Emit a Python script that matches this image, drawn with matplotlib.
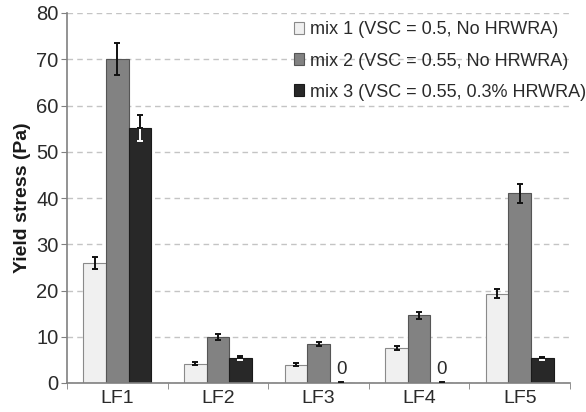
import numpy as np
import matplotlib.pyplot as plt
from matplotlib.patches import Patch

categories = ["LF1", "LF2", "LF3", "LF4", "LF5"]
series_names = ["mix 1 (VSC = 0.5, No HRWRA)",
                "mix 2 (VSC = 0.55, No HRWRA)",
                "mix 3 (VSC = 0.55, 0.3% HRWRA)"]
mix1 = [25.9, 4.2, 4.0, 7.6, 19.3]
mix2 = [70.0, 10.0, 8.4, 14.6, 41.0]
mix3 = [55.2, 5.4, 0.0, 0.0, 5.3]
err1 = [1.3, 0.3, 0.3, 0.5, 1.0]
err2 = [3.5, 0.6, 0.5, 0.8, 2.0]
err3 = [2.8, 0.4, 0.0, 0.0, 0.3]
yticks = [0, 10, 20, 30, 40, 50, 60, 70, 80]

plt.rcParams['font.family'] = ['Liberation Sans', 'DejaVu Sans']

fig = plt.figure(figsize=(5.86, 4.12), dpi=100)
ax = fig.add_axes([67/586, 1 - 383/412, (570-67)/586, (383-13)/412])

x = np.arange(len(categories))
w = 0.224
fills = ["#f0f0f0", "#828282", "#282828"]
edges = ["#8a8a8a", "#555555", "#1a1a1a"]
values = [mix1, mix2, mix3]
errs = [err1, err2, err3]
txt = "#2a2a2a"

ax.set_axisbelow(True)
ax.yaxis.grid(True, linestyle=(0, (4, 3)), color="#c4c4c4", linewidth=1.0)

for i, (vals, er) in enumerate(zip(values, errs)):
    pos = x + (i - 1) * w
    ax.bar(pos, vals, width=w, color=fills[i], edgecolor=edges[i], linewidth=0.8, zorder=2)
    if i < 2:
        ax.errorbar(pos, vals, yerr=er, fmt="none", ecolor="#111111", elinewidth=1.4,
                    capsize=2, capthick=1.4, zorder=3)
    else:
        for p, v, e in zip(pos, vals, er):
            if v == 0:
                ax.plot([p - 0.02, p + 0.02], [0.15, 0.15], color="#111111", lw=1.4, zorder=3)
                ax.text(p, 1.0, f"{v:g}", ha="center", va="bottom", fontsize=13.5, color=txt)
                continue
            ax.errorbar([p], [v], yerr=[[e], [0]], fmt="none", ecolor="white", elinewidth=1.4,
                        capsize=2, capthick=1.4, zorder=3)
            ax.errorbar([p], [v], yerr=[[0], [e]], fmt="none", ecolor="#111111", elinewidth=1.4,
                        capsize=2, capthick=1.4, zorder=3)

ax.set_xlim(-0.5, len(categories) - 0.5)
ax.set_ylim(0, 80)
ax.set_yticks(yticks)
ax.set_xticks(x)
ax.set_xticklabels(categories)
ax.set_xticks(np.arange(len(categories) + 1) - 0.5, minor=True)
ax.tick_params(axis="x", which="major", length=0, labelsize=14, pad=5, colors=txt)
ax.tick_params(axis="x", which="minor", length=4, color="#808080", direction="out")
ax.tick_params(axis="y", length=4, color="#808080", labelsize=14.5, colors=txt, pad=2)
for s in ["top", "right"]:
    ax.spines[s].set_visible(False)
for s in ["left", "bottom"]:
    ax.spines[s].set_color("#808080")
    ax.spines[s].set_linewidth(1.2)

ax.set_ylabel("Yield stress (Pa)", fontsize=14, fontweight="bold", labelpad=4, color="#1a1a1a")

handles = [Patch(facecolor=fills[i], edgecolor=edges[i], linewidth=0.8) for i in range(3)]
leg = fig.legend(handles, series_names, loc="upper right", bbox_to_anchor=(1.0, 0.948),
                 frameon=False, fontsize=13, handlelength=0.6, handleheight=0.6,
                 handletextpad=0.3, labelspacing=0.78, borderaxespad=0.0, borderpad=0.0)
for t in leg.get_texts():
    t.set_color(txt)

fig.savefig("out.png", dpi=100)
